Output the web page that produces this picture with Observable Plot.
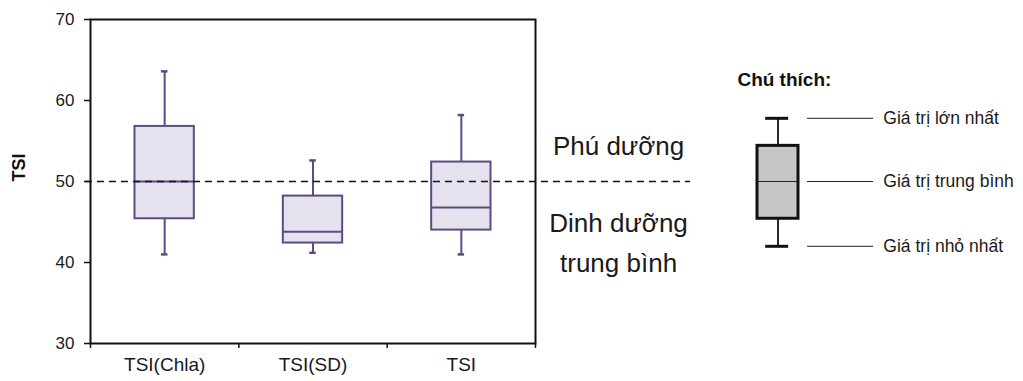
<!DOCTYPE html>
<html>
<head>
<meta charset="utf-8">
<script src="https://cdn.jsdelivr.net/npm/d3@7"></script>
<script src="https://cdn.jsdelivr.net/npm/@observablehq/plot@0.6"></script>
<style>
  html, body { margin: 0; padding: 0; background: #fff; }
  #chart { position: relative; width: 1023px; height: 381px; }
  #chart svg { position: absolute; left: 0; top: 0; }
</style>
</head>
<body>
<div id="chart"></div>
<script>
// ---- data ----
const categories = ["TSI(Chla)", "TSI(SD)", "TSI"];
const minValues = [41.0, 41.2, 41.0];
const q1Values = [45.4, 42.4, 44.0];
const medianValues = [50.0, 43.8, 46.8];
const q3Values = [56.8, 48.2, 52.4];
const maxValues = [63.6, 52.6, 58.2];
const thresholdValue = 50;
const yTicks = [30, 40, 50, 60, 70];
const yLabel = "TSI";
const upperZoneLabel = ["Phú dưỡng"];
const lowerZoneLabel = ["Dinh dưỡng", "trung bình"];
const legendTitle = "Chú thích:";
const legendLabels = ["Giá trị lớn nhất", "Giá trị trung bình", "Giá trị nhỏ nhất"];
const legendMin = 42.0, legendQ1 = 45.4, legendMedian = 50.0, legendQ3 = 54.4, legendMax = 57.8;

// ---- layout / style ----
const W = 1023, H = 381;
const FONT = "'Liberation Sans', Arial, sans-serif";
const boxFill = "#e6e1ef";
const boxStroke = "#5e4b80";
const yDomain = [30, 70];
const marginTop = 19, marginBottom = 38, marginLeft = 90, marginRight = 488;

const rows = categories.map((c, i) => ({
  cat: c, pos: i + 1,
  min: minValues[i], q1: q1Values[i], median: medianValues[i], q3: q3Values[i], max: maxValues[i]
}));

const halfBox = 0.2, halfCap = 0.022;

const main = Plot.plot({
  width: W, height: H,
  marginTop, marginBottom, marginLeft, marginRight,
  style: { fontFamily: FONT, color: "#1a1a1a", background: "transparent", overflow: "visible" },
  x: { domain: [0.5, 3.5] },
  y: { domain: yDomain },
  marks: [
    Plot.ruleX(rows, { x: "pos", y1: "min", y2: "q1", stroke: boxStroke, strokeWidth: 2 }),
    Plot.ruleX(rows, { x: "pos", y1: "q3", y2: "max", stroke: boxStroke, strokeWidth: 2 }),
    Plot.ruleY(rows, { y: "min", x1: d => d.pos - halfCap, x2: d => d.pos + halfCap, stroke: boxStroke, strokeWidth: 2.5 }),
    Plot.ruleY(rows, { y: "max", x1: d => d.pos - halfCap, x2: d => d.pos + halfCap, stroke: boxStroke, strokeWidth: 2.5 }),
    Plot.rect(rows, { x1: d => d.pos - halfBox, x2: d => d.pos + halfBox, y1: "q1", y2: "q3", fill: boxFill, stroke: boxStroke, strokeWidth: 2 }),
    Plot.ruleY(rows, { y: "median", x1: d => d.pos - halfBox, x2: d => d.pos + halfBox, stroke: boxStroke, strokeWidth: 2 }),
    Plot.ruleY([thresholdValue], { x1: 0.466, x2: 4.545, stroke: "#111", strokeWidth: 1.5, strokeDasharray: "7,5" }),
    Plot.frame({ stroke: "#111", strokeWidth: 2 }),
    Plot.axisY({ ticks: yTicks, tickSize: 6, tickPadding: 10, fontSize: 17, label: null, stroke: "#111", strokeWidth: 1.5 }),
    Plot.text([yLabel], { frameAnchor: "left", dx: -71, rotate: -90, fontWeight: "bold", fontSize: 18, fill: "#111" }),
    Plot.axisX({ ticks: [0.5, 1.5, 2.5, 3.5], tickSize: 5, tickFormat: () => "", label: null, stroke: "#111", strokeWidth: 1.5 }),
    Plot.axisX({ ticks: [1, 2, 3], tickSize: 0, tickPadding: 14, tickFormat: d => categories[d - 1], fontSize: 19, label: null }),
    Plot.text(upperZoneLabel, { x: 4.06, y: 54.3, fontSize: 26, fill: "#1a1a1a" }),
    Plot.text(lowerZoneLabel, { x: 4.06, y: (d, i) => [44.8, 39.9][i], fontSize: 26, fill: "#1a1a1a" })
  ]
});

const legendY = [legendMax, legendMedian, legendMin];
const legend = Plot.plot({
  width: W, height: H,
  marginTop, marginBottom, marginLeft: 757, marginRight: W - 798,
  style: { fontFamily: FONT, color: "#1a1a1a", background: "transparent", overflow: "visible" },
  x: { domain: [0, 1], axis: null },
  y: { domain: yDomain, axis: null },
  marks: [
    Plot.ruleX([0.5], { y1: legendQ3, y2: legendMax, stroke: "#111", strokeWidth: 1.8 }),
    Plot.ruleX([0.5], { y1: legendMin, y2: legendQ1, stroke: "#111", strokeWidth: 1.8 }),
    Plot.ruleY([legendMax, legendMin], { x1: 0.2, x2: 0.76, stroke: "#111", strokeWidth: 3 }),
    Plot.rect([0], { x1: 0, x2: 1, y1: legendQ1, y2: legendQ3, fill: "#c6c6c6", stroke: "#111", strokeWidth: 3 }),
    Plot.ruleY([legendMedian], { x1: 0, x2: 1, stroke: "#222", strokeWidth: 1 }),
    Plot.ruleY(legendY, { x1: 1.22, x2: 2.83, stroke: "#222", strokeWidth: 1 }),
    Plot.text(legendLabels, { x: 3.07, y: (d, i) => legendY[i], textAnchor: "start", fontSize: 17.5, fill: "#1a1a1a" }),
    Plot.text([legendTitle], { x: -0.49, y: 62.5, textAnchor: "start", fontSize: 19, fontWeight: "bold", fill: "#111" })
  ]
});

const root = document.getElementById("chart");
root.append(main, legend);
</script>
</body>
</html>
